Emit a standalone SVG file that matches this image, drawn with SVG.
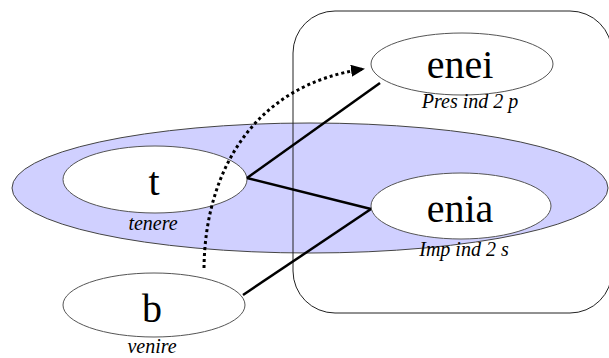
<svg xmlns="http://www.w3.org/2000/svg" width="609" height="358" viewBox="0 0 609 358">
<style>
.node{fill:#fff;stroke:#555;stroke-width:1}
.big{font-family:"Liberation Serif","Times New Roman",serif;font-size:40px;fill:#000;text-anchor:middle}
.lab{font-family:"Liberation Serif","Times New Roman",serif;font-size:20px;font-style:italic;fill:#000;text-anchor:middle}
.edge{stroke:#000;stroke-width:2.5;fill:none}
</style>
<defs>
<marker id="ah" markerWidth="14" markerHeight="12" refX="13" refY="6" orient="auto" markerUnits="userSpaceOnUse">
<path d="M0,0 L14,6 L0,12 z" fill="#000"/>
</marker>
</defs>
<rect width="609" height="358" fill="#fff"/>
<g id="group-ellipse">
<ellipse cx="310" cy="188" rx="298" ry="65" fill="#d0d0ff" stroke="#444" stroke-width="1"/>
</g>
<g id="box">
<rect x="293" y="11" width="319" height="302" rx="42" ry="42" fill="none" stroke="#222" stroke-width="1"/>
</g>
<g id="node-t">
<ellipse class="node" cx="155" cy="179.5" rx="92" ry="33.5"/>
<text class="big" x="154" y="195">t</text>
<text class="lab" x="153" y="230">tenere</text>
</g>
<g id="node-enei">
<ellipse class="node" cx="462" cy="64" rx="91" ry="31"/>
<text class="big" x="460" y="78">enei</text>
<text class="lab" x="470" y="108">Pres ind 2 p</text>
</g>
<g id="node-enia">
<ellipse class="node" cx="461" cy="206" rx="90" ry="33"/>
<text class="big" x="460" y="222">enia</text>
</g>
<g id="node-b">
<ellipse class="node" cx="154" cy="305" rx="91" ry="32"/>
<text class="big" x="152" y="322">b</text>
<text class="lab" x="152" y="353">venire</text>
</g>
<g id="connectors">
<line class="edge" x1="247" y1="178" x2="380" y2="83"/>
<line class="edge" x1="247" y1="178" x2="371" y2="209"/>
<line class="edge" x1="243" y1="295" x2="371" y2="209"/>
<path d="M204,268 C205,170 255,84 364,69" fill="none" stroke="#000" stroke-width="3" stroke-dasharray="3,3" marker-end="url(#ah)"/>
</g>
<text class="lab" x="464" y="256">Imp ind 2 s</text>
</svg>
